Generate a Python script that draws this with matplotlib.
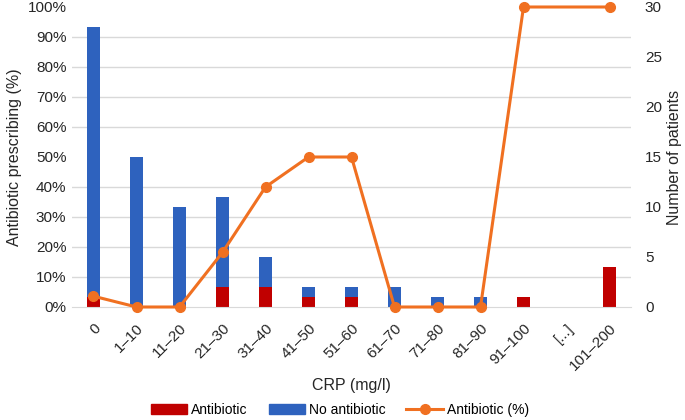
import numpy as np
import matplotlib.pyplot as plt
from matplotlib.lines import Line2D
from matplotlib.patches import Patch

plt.rcParams['font.family'] = ['Liberation Sans', 'DejaVu Sans']

# data
categories = ["0", "1–10", "11–20", "21–30", "31–40", "41–50", "51–60",
              "61–70", "71–80", "81–90", "91–100", "[...]", "101–200"]
antibiotic = [1, 0, 0, 2, 2, 1, 1, 0, 0, 0, 1, 0, 4]
no_antibiotic = [27, 15, 10, 9, 3, 1, 1, 2, 1, 1, 0, 0, 0]
antibiotic_pct = [3.6, 0, 0, 18.2, 40, 50, 50, 0, 0, 0, 100, None, 100]

RED = "#C00000"
BLUE = "#2E62BE"
ORANGE = "#F07021"
GRID = "#D9D9D9"
TXT = "#262626"

x = np.arange(len(categories))

fig = plt.figure(figsize=(6.85, 4.2), dpi=100)
ax = fig.add_axes([72 / 685, 1 - 307 / 420, 559 / 685, 300 / 420])
ax2 = ax.twinx()

# bars (patients) -> right scale
w = 0.28
ax.bar(x, antibiotic, width=w, color=RED, zorder=2)
ax.bar(x, no_antibiotic, width=w, bottom=antibiotic, color=BLUE, zorder=2)
ax.set_ylim(0, 30)
ax.set_xlim(-0.5, len(categories) - 0.5)
ax.yaxis.tick_right()
ax.yaxis.set_label_position("right")
ax.set_yticks(np.arange(0, 31, 5))
ax.set_yticks(np.arange(0, 31, 3), minor=True)
ax.yaxis.set_minor_formatter(plt.NullFormatter())
ax.tick_params(axis="y", which="both", length=0, pad=10, labelsize=11, colors=TXT)
ax.grid(axis="y", which="minor", color=GRID, linewidth=1, zorder=0)
ax.set_ylabel("Number of patients", fontsize=11.5, color=TXT, labelpad=4)

ax.set_xticks(x)
ax.set_xticklabels(categories, rotation=45, ha="right", rotation_mode="anchor")
ax.tick_params(axis="x", length=0, pad=10, labelsize=11, colors=TXT)
ax.set_xlabel("CRP (mg/l)", fontsize=11.5, color=TXT, labelpad=4)
for s in ax.spines.values():
    s.set_visible(False)
ax.spines["bottom"].set_visible(True)
ax.spines["bottom"].set_color(GRID)

# line (%) -> left scale
pct = np.array([np.nan if v is None else v for v in antibiotic_pct])
ok = ~np.isnan(pct)
ax2.plot(x[ok], pct[ok], color=ORANGE, linewidth=2.2, marker="o",
         markersize=7, clip_on=False, zorder=3)
ax2.set_ylim(0, 100)
ax2.yaxis.tick_left()
ax2.yaxis.set_label_position("left")
ax2.set_yticks(np.arange(0, 101, 10))
ax2.set_yticklabels([f"{v}%" for v in range(0, 101, 10)])
ax2.tick_params(axis="y", length=0, pad=4, labelsize=11, colors=TXT)
ax2.set_ylabel("Antibiotic prescribing (%)", fontsize=11.5, color=TXT, labelpad=4)
for s in ax2.spines.values():
    s.set_visible(False)

handles = [Patch(color=RED), Patch(color=BLUE),
           Line2D([], [], color=ORANGE, linewidth=2.2, marker="o", markersize=7)]
fig.legend(handles, ["Antibiotic", "No antibiotic", "Antibiotic (%)"],
           loc="center", bbox_to_anchor=(340 / 685, 1 - 410 / 420), ncol=3,
           frameon=False, fontsize=10, handlelength=2.6, handleheight=0.8,
           columnspacing=1.5, handletextpad=0.3)

fig.savefig("out.png", dpi=100)
